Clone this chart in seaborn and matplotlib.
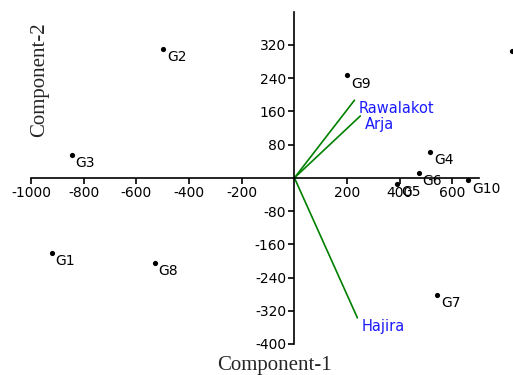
import numpy as np
import matplotlib.pyplot as plt
import seaborn as sns

# genotype scores (component-1, component-2)
genotypes = ['G1', 'G2', 'G3', 'G4', 'G5', 'G6', 'G7', 'G8', 'G9', 'G10', '']
comp1 = [-922, -497, -846, 516, 391, 471, 543, -531, 201, 660, 827]
comp2 = [-180, 310, 55, 62, -15, 12, -281, -204, 247, -6, 305]

# environment vectors
envs = ['Rawalakot', 'Arja', 'Hajira']
env_c1 = [228, 250, 239]
env_c2 = [187, 149, -337]

xticks = [-1000, -800, -600, -400, -200, 200, 400, 600]
yticks = [-400, -320, -240, -160, -80, 80, 160, 240, 320]

sns.set_style('white')
plt.rcParams['font.family'] = ['DejaVu Sans']

fig = plt.figure(figsize=(5.13, 3.75), dpi=100)
ax = fig.add_axes([0.0604, 0.0827, 0.873, 0.886])

# vectors
for name, x, y in zip(envs, env_c1, env_c2):
    ax.plot([0, x], [0, y], color='#008000', lw=1.2)
    ax.annotate(name, (x, y), xytext=(3, -6), textcoords='offset points',
                ha='left', va='center', color='#1a1aff', fontsize=10.5)

# genotype points
sns.scatterplot(x=comp1, y=comp2, color='black', s=14, linewidth=0,
                ax=ax, clip_on=False, zorder=3)
for g, x, y in zip(genotypes, comp1, comp2):
    ax.annotate(g, (x, y), xytext=(3, -6), textcoords='offset points',
                ha='left', va='center', fontsize=10, color='black',
                annotation_clip=False)

# partly visible label at the right edge
ax.text(827, 58, 'U', fontsize=10, color='#333333', ha='left', va='center',
        clip_on=False)

ax.set_xlim(-1000, 700)
ax.set_ylim(-400, 400)
ax.set_xticks(xticks)
ax.set_yticks(yticks)
ax.set_xticklabels([str(t) for t in xticks])
ax.set_yticklabels([str(t) for t in yticks])

ax.spines['left'].set_position(('data', 0))
ax.spines['bottom'].set_position(('data', 0))
ax.spines['top'].set_visible(False)
ax.spines['right'].set_visible(False)
for s in ['left', 'bottom']:
    ax.spines[s].set_color('black')
    ax.spines[s].set_linewidth(1.2)
ax.tick_params(axis='both', direction='out', length=4, width=1.2,
               colors='black', labelsize=10, pad=2)
ax.tick_params(axis='x', bottom=True)
ax.tick_params(axis='y', left=True)
ax.patch.set_alpha(0)

fig.text(0.078, 0.787, 'Component-2', rotation=90, ha='center', va='center',
         family='Liberation Serif', fontsize=15)
fig.text(0.534, 0.026, 'Component-1', ha='center', va='center',
         family='Liberation Serif', fontsize=15)

fig.savefig('out.png', dpi=100)
